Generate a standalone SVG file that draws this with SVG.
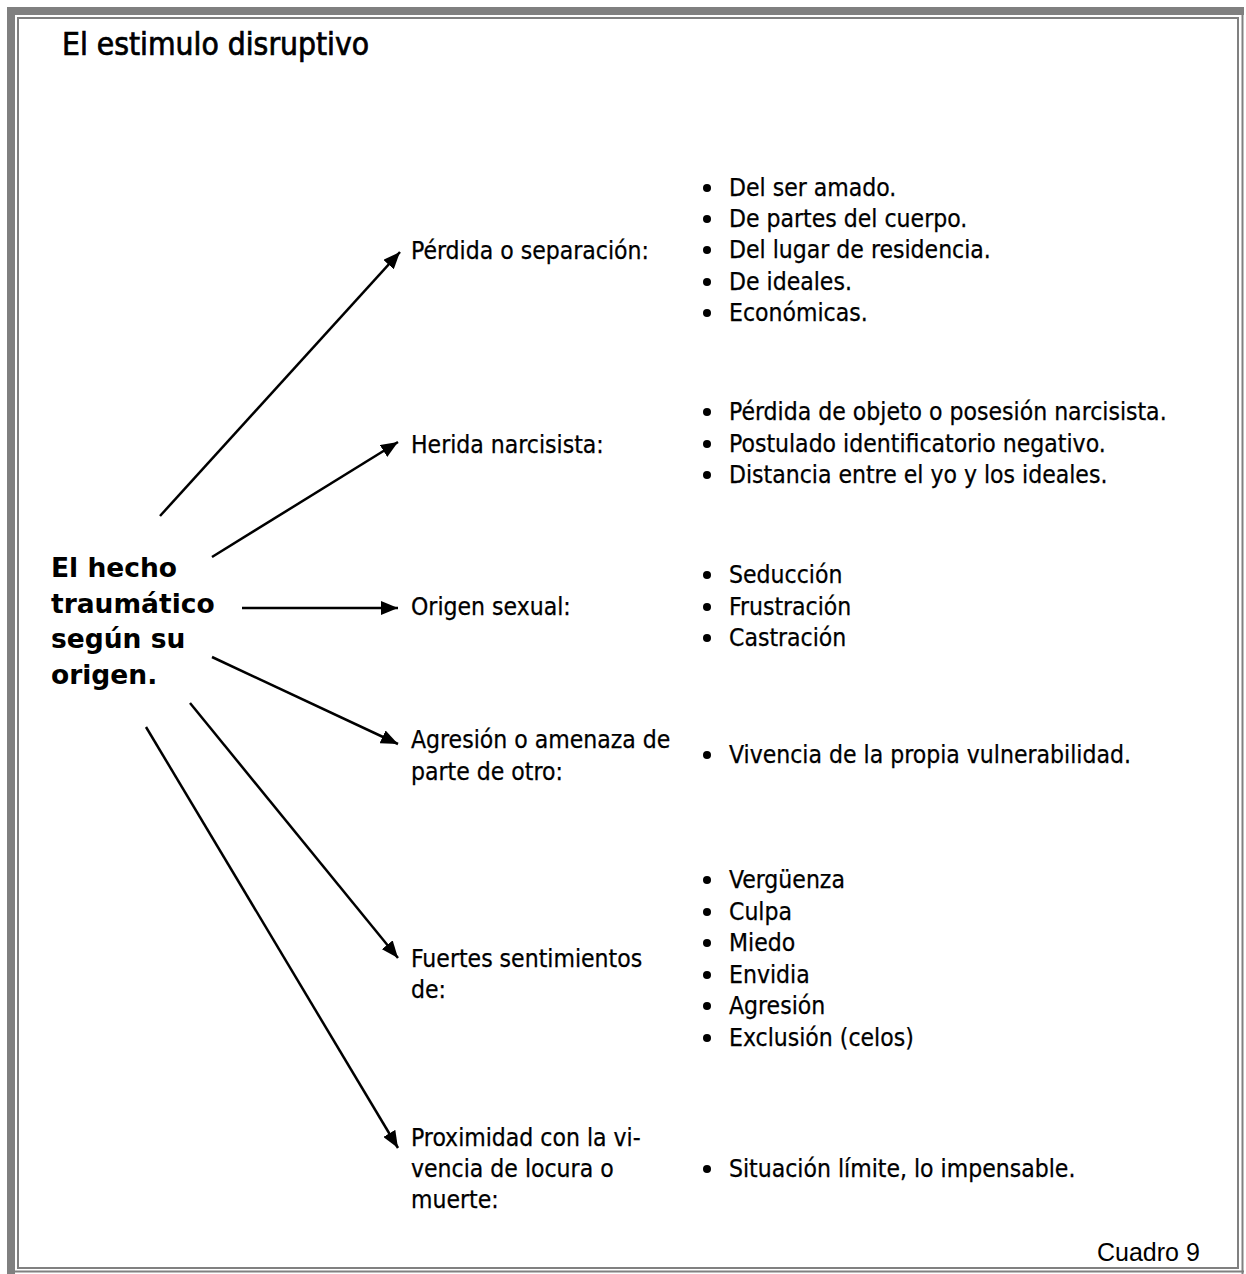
<svg xmlns="http://www.w3.org/2000/svg" width="1246" height="1274" viewBox="0 0 1246 1274">
<style>
.t{font-family:"DejaVu Sans Condensed","DejaVu Sans",sans-serif;font-stretch:condensed;font-size:24.5px;fill:#000;stroke:#000;stroke-width:0.25}
.h{font-family:"DejaVu Sans Condensed","DejaVu Sans",sans-serif;font-stretch:condensed;font-size:31.5px;fill:#000;stroke:#000;stroke-width:0.7}
.b{font-family:"DejaVu Sans",sans-serif;font-weight:bold;font-size:26.5px;fill:#000}
.c{font-family:"Liberation Sans",Arial,sans-serif;font-size:25px;fill:#000}
.a{stroke:#000;stroke-width:2.5;fill:none;marker-end:url(#ah)}
.dot{fill:#000}
</style>
<defs>
<marker id="ah" markerUnits="userSpaceOnUse" viewBox="0 0 17 14" refX="17" refY="7" markerWidth="17" markerHeight="14" orient="auto">
<path d="M0,0 L17,7 L0,14 Z" fill="#000"/>
</marker>
</defs>
<rect width="1246" height="1274" fill="#fff"/>
<g id="frame">
<rect x="7" y="7" width="1237" height="8" fill="#808080"/>
<rect x="7" y="7" width="8" height="1267" fill="#808080"/>
<rect x="18" y="18" width="1220" height="1250" fill="none" stroke="#808080" stroke-width="2"/>
<line x1="1242.5" y1="15" x2="1242.5" y2="1274" stroke="#808080" stroke-width="2"/>
<line x1="15" y1="1271.5" x2="1244" y2="1271.5" stroke="#808080" stroke-width="2"/>
</g>
<g id="title"><text class="h" x="62" y="55">El estimulo disruptivo</text></g>
<g id="root">
<text class="b" x="51" y="577">El hecho</text>
<text class="b" x="51" y="613">traumático</text>
<text class="b" x="51" y="648">según su</text>
<text class="b" x="51" y="684">origen.</text>
</g>
<g id="connectors">
<line class="a" x1="160" y1="516" x2="400" y2="252"/>
<line class="a" x1="212" y1="557" x2="398" y2="442"/>
<line class="a" x1="242" y1="608" x2="398" y2="608"/>
<line class="a" x1="212" y1="657" x2="398" y2="744"/>
<line class="a" x1="190" y1="703" x2="398" y2="958"/>
<line class="a" x1="146" y1="727" x2="398" y2="1148"/>
</g>
<g id="n1">
<text class="t" x="411" y="259">Pérdida o separación:</text>
<circle class="dot" cx="707" cy="188" r="4"/><text class="t" x="729" y="196">Del ser amado.</text>
<circle class="dot" cx="707" cy="219" r="4"/><text class="t" x="729" y="227">De partes del cuerpo.</text>
<circle class="dot" cx="707" cy="250" r="4"/><text class="t" x="729" y="258">Del lugar de residencia.</text>
<circle class="dot" cx="707" cy="282" r="4"/><text class="t" x="729" y="290">De ideales.</text>
<circle class="dot" cx="707" cy="313" r="4"/><text class="t" x="729" y="321">Económicas.</text>
</g>
<g id="n2">
<text class="t" x="411" y="453">Herida narcisista:</text>
<circle class="dot" cx="707" cy="412" r="4"/><text class="t" x="729" y="420">Pérdida de objeto o posesión narcisista.</text>
<circle class="dot" cx="707" cy="444" r="4"/><text class="t" x="729" y="452">Postulado identificatorio negativo.</text>
<circle class="dot" cx="707" cy="475" r="4"/><text class="t" x="729" y="483">Distancia entre el yo y los ideales.</text>
</g>
<g id="n3">
<text class="t" x="411" y="615">Origen sexual:</text>
<circle class="dot" cx="707" cy="575" r="4"/><text class="t" x="729" y="583">Seducción</text>
<circle class="dot" cx="707" cy="607" r="4"/><text class="t" x="729" y="615">Frustración</text>
<circle class="dot" cx="707" cy="638" r="4"/><text class="t" x="729" y="646">Castración</text>
</g>
<g id="n4">
<text class="t" x="411" y="748">Agresión o amenaza de</text>
<text class="t" x="411" y="780">parte de otro:</text>
<circle class="dot" cx="707" cy="755" r="4"/><text class="t" x="729" y="763">Vivencia de la propia vulnerabilidad.</text>
</g>
<g id="n5">
<text class="t" x="411" y="967">Fuertes sentimientos</text>
<text class="t" x="411" y="998">de:</text>
<circle class="dot" cx="707" cy="880" r="4"/><text class="t" x="729" y="888">Vergüenza</text>
<circle class="dot" cx="707" cy="912" r="4"/><text class="t" x="729" y="920">Culpa</text>
<circle class="dot" cx="707" cy="943" r="4"/><text class="t" x="729" y="951">Miedo</text>
<circle class="dot" cx="707" cy="975" r="4"/><text class="t" x="729" y="983">Envidia</text>
<circle class="dot" cx="707" cy="1006" r="4"/><text class="t" x="729" y="1014">Agresión</text>
<circle class="dot" cx="707" cy="1038" r="4"/><text class="t" x="729" y="1046">Exclusión (celos)</text>
</g>
<g id="n6">
<text class="t" x="411" y="1146">Proximidad con la vi-</text>
<text class="t" x="411" y="1177">vencia de locura o</text>
<text class="t" x="411" y="1208">muerte:</text>
<circle class="dot" cx="707" cy="1169" r="4"/><text class="t" x="729" y="1177">Situación límite, lo impensable.</text>
</g>
<g id="caption"><text class="c" x="1097" y="1261">Cuadro 9</text></g>
</svg>
